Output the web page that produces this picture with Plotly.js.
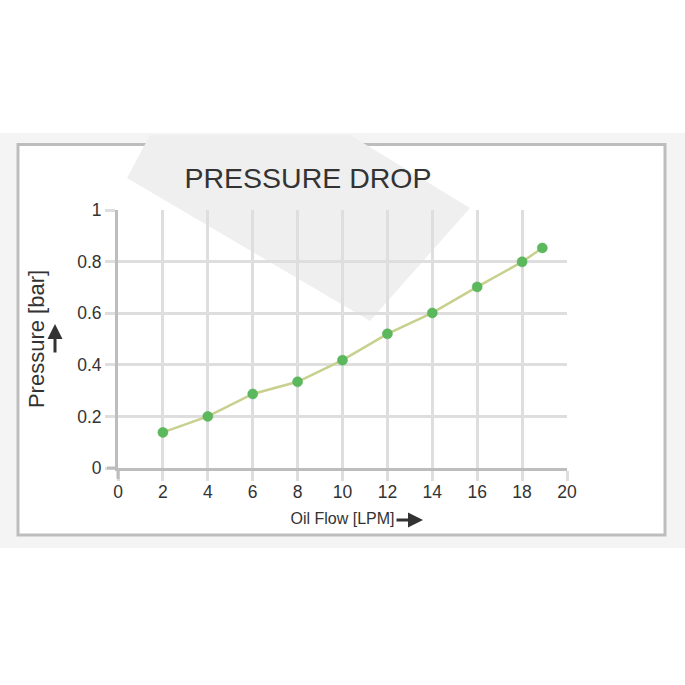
<!DOCTYPE html>
<html>
<head>
<meta charset="utf-8">
<script src="https://cdn.plot.ly/plotly-3.0.1.min.js"></script>
<style>html,body{margin:0;padding:0;background:#fff;}#chart{width:685px;height:685px;}</style>
</head>
<body>
<div id="chart"></div>
<script>
// Data
const oilFlow = [2, 4, 6, 8, 10, 12, 14, 16, 18, 18.9];
const pressure = [0.138, 0.200, 0.287, 0.334, 0.418, 0.520, 0.601, 0.702, 0.799, 0.853];
const xTickVals = [0, 2, 4, 6, 8, 10, 12, 14, 16, 18, 20];
const yTickVals = [0, 0.2, 0.4, 0.6, 0.8, 1];
const yTickText = ['0', '0.2', '0.4', '0.6', '0.8', '1'];
const chartTitle = 'PRESSURE DROP';
const xTitle = 'Oil Flow [LPM]';
const yTitle = 'Pressure [bar]';

// Plot-area pixel frame
const L = 118, R = 567, T = 210, B = 468, W = 685, H = 685;
const px = x => (x - L) / (R - L);
const py = y => (B - y) / (B - T);

const sans = 'Liberation Sans, Arial, Helvetica, sans-serif';

const trace = {
  x: oilFlow,
  y: pressure,
  type: 'scatter',
  mode: 'lines+markers',
  line: {color: '#c8d08e', width: 2.5},
  marker: {color: '#5cb85c', size: 10, line: {color: '#4fae55', width: 0.5}},
  hoverinfo: 'x+y',
  showlegend: false
};

const layout = {
  width: W, height: H,
  margin: {l: L, r: W - R, t: T, b: H - B, pad: 0},
  paper_bgcolor: '#ffffff',
  plot_bgcolor: 'rgba(0,0,0,0)',
  showlegend: false,
  title: {
    text: chartTitle,
    font: {family: sans, size: 28.5, color: '#333333'},
    xref: 'paper', x: px(308), xanchor: 'center',
    yref: 'container', y: 1 - 178 / H, yanchor: 'middle'
  },
  xaxis: {
    range: [0, 20],
    tickmode: 'array', tickvals: xTickVals,
    showgrid: true, gridcolor: '#dedede', gridwidth: 3,
    zeroline: false,
    showline: true, linecolor: '#bdbdbd', linewidth: 3,
    ticks: 'outside', ticklen: 10, tickwidth: 3, tickcolor: '#dedede',
    ticklabelstandoff: -4,
    tickfont: {family: sans, size: 17.5, color: '#333333'},
    title: {text: xTitle, font: {family: sans, size: 16, color: '#333333'}, standoff: 12},
    fixedrange: true
  },
  yaxis: {
    range: [0, 1],
    tickmode: 'array', tickvals: yTickVals, ticktext: yTickText,
    showgrid: true, gridcolor: '#dedede', gridwidth: 3,
    zeroline: false,
    showline: true, linecolor: '#bdbdbd', linewidth: 3,
    ticks: 'outside', ticklen: 10, tickwidth: 3, tickcolor: '#dedede',
    tickfont: {family: sans, size: 17.5, color: '#333333'},
    title: {text: yTitle, font: {family: sans, size: 22, color: '#333333'}, standoff: 27},
    fixedrange: true
  },
  shapes: [
    // light grey band behind the card
    {type: 'rect', xref: 'paper', yref: 'paper', layer: 'below',
     x0: px(0), x1: px(W), y0: py(548), y1: py(133),
     fillcolor: '#f4f4f4', line: {width: 0}},
    // white card with grey border
    {type: 'rect', xref: 'paper', yref: 'paper', layer: 'below',
     x0: px(18), x1: px(665), y0: py(535), y1: py(144.5),
     fillcolor: '#ffffff', line: {color: '#bdbdbd', width: 3}},
    // faint diagonal watermark
    {type: 'path', xref: 'paper', yref: 'paper', layer: 'below',
     path: 'M ' + px(127) + ',' + py(178) + ' L ' + px(150) + ',' + py(135) +
           ' L ' + px(350) + ',' + py(135) + ' L ' + px(470) + ',' + py(208) +
           ' L ' + px(370) + ',' + py(321) + ' Z',
     fillcolor: '#efefef', line: {width: 0}},
    // darker extensions of the two axis lines past the origin
    {type: 'line', xref: 'paper', yref: 'paper', layer: 'above',
     x0: 0, x1: 0, y0: 0, y1: py(479), line: {color: '#bdbdbd', width: 3}},
    {type: 'line', xref: 'paper', yref: 'paper', layer: 'above',
     x0: 0, x1: px(107), y0: 0, y1: 0, line: {color: '#bdbdbd', width: 3}}
  ],
  annotations: [
    // arrow next to the y-axis title (pointing up)
    {xref: 'paper', yref: 'paper', x: px(55), y: py(324), ax: 0, ay: 30,
     axref: 'pixel', ayref: 'pixel', text: '', showarrow: true,
     arrowhead: 2, arrowsize: 1, arrowwidth: 3, arrowcolor: '#333333'},
    // arrow after the x-axis title (pointing right)
    {xref: 'paper', yref: 'paper', x: px(423), y: py(520), ax: -28, ay: 0,
     axref: 'pixel', ayref: 'pixel', text: '', showarrow: true,
     arrowhead: 2, arrowsize: 1, arrowwidth: 3, arrowcolor: '#333333'}
  ]
};

Plotly.newPlot('chart', [trace], layout, {displayModeBar: false, staticPlot: true});
</script>
</body>
</html>
